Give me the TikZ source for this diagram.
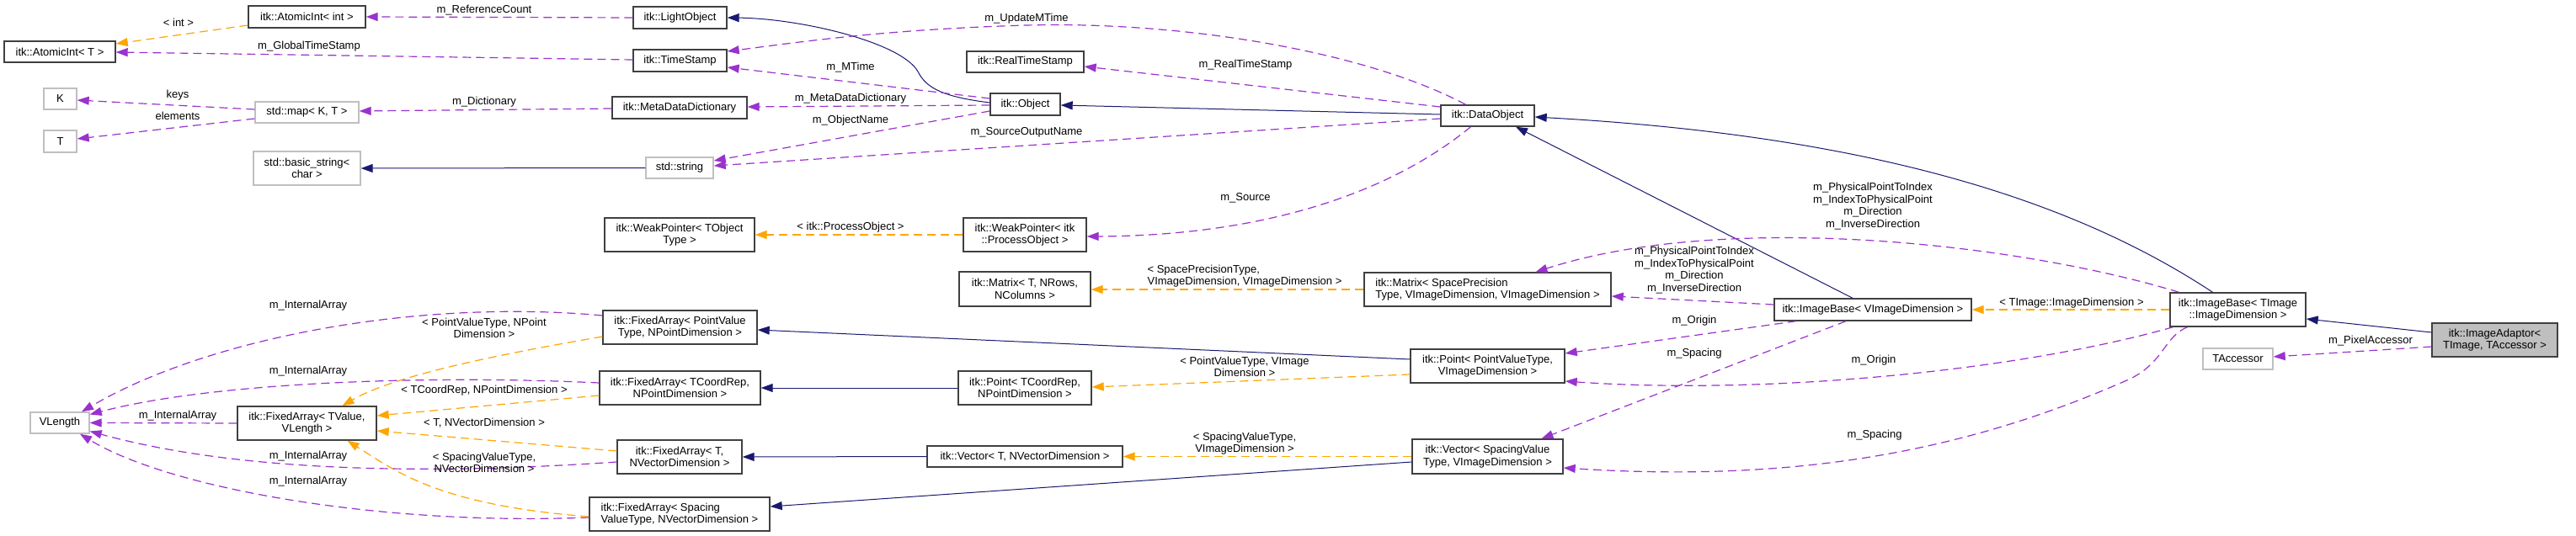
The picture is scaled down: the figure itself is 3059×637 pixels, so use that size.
\documentclass[tikz,border=0pt]{standalone}
\usepackage{fontspec}
\setmainfont{Liberation Sans}
\usetikzlibrary{arrows.meta,calc}
\definecolor{inh}{HTML}{191970}
\definecolor{use}{HTML}{9A32CD}
\definecolor{tpl}{HTML}{FFA500}
\definecolor{gbord}{HTML}{BFBFBF}
\definecolor{afill}{HTML}{BFBFBF}
\tikzset{
  cls/.style={draw=black!75, line width=0.7pt, fill=white, align=center},
  ext/.style={draw=gbord, line width=0.7pt, fill=white, align=center},
  sz/.style 2 args={minimum width=#1*0.5pt, minimum height=#2*0.5pt},
  lbl/.style={align=center},
  tip/.style={-{Triangle[length=7pt,width=5pt]}},
  inhe/.style={tip, draw=inh, line width=0.5pt},
  usee/.style={tip, draw=use, line width=0.6pt, dash pattern=on 5pt off 3pt},
  tple/.style={tip, draw=tpl, line width=0.6pt, dash pattern=on 5pt off 3pt},
}
\begin{document}
\begin{tikzpicture}[x=0.5pt,y=-0.5pt,
  every node/.style={font=\fontsize{6.5}{7.3}\selectfont, inner sep=0pt}]
\useasboundingbox[fill=white] (0,0) rectangle (3059,637);

% nodes
\node[cls,sz={139}{26}] (aint) at (364.5,20) {itk::AtomicInt< int >};
\node[cls,sz={132}{25}] (aT) at (71,61.5) {itk::AtomicInt< T >};
\node[ext,sz={39}{25}] (K) at (71.5,117.5) {K};
\node[ext,sz={39}{26}] (Tn) at (71.5,168) {T};
\node[ext,sz={123}{25}] (map) at (364.5,133.5) {std::map< K, T >};
\node[ext,sz={127}{40}] (bstr) at (364.5,200) {std::basic\_string<\\ char >};
\node[ext,sz={70}{25}] (vlen) at (71,502.5) {VLength};
\node[cls,sz={165}{40}] (fatv) at (364.5,503) {itk::FixedArray< TValue,\\ VLength >};
\node[cls,sz={111}{26}] (light) at (807.5,21) {itk::LightObject};
\node[cls,sz={111}{26}] (tstamp) at (807.5,72) {itk::TimeStamp};
\node[cls,sz={160}{26}] (mdd) at (807,128) {itk::MetaDataDictionary};
\node[ext,sz={80}{25}] (sstr) at (807,199.5) {std::string};
\node[cls,sz={178}{40}] (wpt) at (807,279) {itk::WeakPointer< TObject\\ Type >};
\node[cls,sz={183}{40}] (fapv) at (807.5,389) {itk::FixedArray< PointValue\\ Type, NPointDimension >};
\node[cls,sz={191}{40}] (fatc) at (807.5,461) {itk::FixedArray< TCoordRep,\\ NPointDimension >};
\node[cls,sz={148}{40}] (fat) at (807,543) {itk::FixedArray< T,\\ NVectorDimension >};
\node[cls,sz={214}{40},align=left] (fasp) at (807,611) {itk::FixedArray< Spacing\\ValueType, NVectorDimension >};
\node[cls,sz={139}{25}] (rts) at (1217.5,73.5) {itk::RealTimeStamp};
\node[cls,sz={83}{26}] (obj) at (1217.5,124) {itk::Object};
\node[cls,sz={146}{40}] (wpp) at (1217,279) {itk::WeakPointer< itk\\::ProcessObject >};
\node[cls,sz={156}{41}] (matt) at (1217,343.5) {itk::Matrix< T, NRows,\\ NColumns >};
\node[cls,sz={158}{40}] (ptc) at (1217,461) {itk::Point< TCoordRep,\\ NPointDimension >};
\node[cls,sz={232}{25}] (vect) at (1217,542.5) {itk::Vector< T, NVectorDimension >};
\node[cls,sz={111}{25}] (dobj) at (1766.5,137.5) {itk::DataObject};
\node[cls,sz={293}{40},align=left] (matsp) at (1766.5,344) {itk::Matrix< SpacePrecision\\Type, VImageDimension, VImageDimension >};
\node[cls,sz={183}{40}] (ppv) at (1766.5,435) {itk::Point< PointValueType,\\ VImageDimension >};
\node[cls,sz={179}{41}] (vsv) at (1766.5,542.5) {itk::Vector< SpacingValue\\ Type, VImageDimension >};
\node[cls,sz={234}{26}] (ibv) at (2224,368) {itk::ImageBase< VImageDimension >};
\node[cls,sz={161}{40}] (ibt) at (2657.5,368) {itk::ImageBase< TImage\\ ::ImageDimension >};
\node[ext,sz={83}{25}] (tacc) at (2657.5,426.5) {TAccessor};
\node[cls,sz={149}{40},fill=afill] (ia) at (2962.5,404) {itk::ImageAdaptor<\\ TImage, TAccessor >};

% edges
\draw[tple] ($(aint.west)+(0,10)$) -- ($(aT.east)+(0,-9.5)$);
\draw[usee] (light.west) -- (aint.east);
\draw[usee] ($(tstamp.west)+(0,-1)$) -- ($(aT.east)+(0,0.5)$);
\draw[inhe] ($(obj.west)+(0,-2)$) .. controls (1120,115) and (1100,105) .. (1090,85) .. controls (1070,50) and (950,22) .. (light.east);
\draw[usee] ($(obj.west)+(0,-7)$) -- ($(tstamp.east)+(0,8)$);
\draw[usee] ($(dobj.north)+(-26,0)$) .. controls (1620,60) and (1400,25) .. (1219,30) .. controls (1050,35) and (950,50) .. ($(tstamp.east)+(0,-11)$);
\draw[usee] ($(dobj.west)+(0,-10.5)$) -- ($(rts.east)+(0,5.5)$);
\draw[usee] ($(obj.west)+(0,1)$) -- ($(mdd.east)+(0,-1)$);
\draw[usee] ($(mdd.west)+(0,1)$) -- ($(map.east)+(0,-1.5)$);
\draw[usee] ($(map.west)+(0,-3.5)$) -- ($(K.east)+(0,1.5)$);
\draw[usee] ($(map.west)+(0,7.5)$) -- ($(Tn.east)+(0,-3)$);
\draw[inhe] (sstr.west) -- (bstr.east);
\draw[usee] ($(obj.west)+(0,8)$) -- ($(sstr.east)+(0,-8.5)$);
\draw[usee] ($(dobj.west)+(0,3.5)$) -- ($(sstr.east)+(0,-2.5)$);
\draw[inhe] ($(dobj.west)+(0,-1.5)$) -- ($(obj.east)+(0,1)$);
\draw[usee] ($(dobj.south)+(-20,0)$) .. controls (1650,230) and (1500,280) .. ($(wpp.east)+(0,2)$);
\draw[tple] (wpp.west) -- (wpt.east);
\draw[tple] (matsp.west) -- ($(matt.east)+(0,0.5)$);
\draw[inhe] ($(ibv.north)+(-24,0)$) -- ($(dobj.south)+(33.5,0)$);
\draw[inhe] ($(ibt.north)+(-30,0)$) .. controls (2450,230) and (2200,160) .. ($(dobj.east)+(0,1.5)$);
\draw[usee] ($(ibv.west)+(0,-6)$) -- ($(matsp.east)+(0,8)$);
\draw[usee] ($(ibt.north)+(-70,0)$) .. controls (2400,290) and (2050,250) .. ($(matsp.north)+(57,0)$);
\draw[usee] ($(ibv.south)+(-91,0)$) -- ($(ppv.east)+(0,-15)$);
\draw[usee] ($(ibv.south)+(-32,0)$) -- ($(vsv.north)+(64,0)$);
\draw[usee] ($(ibt.south)+(-77,0)$) .. controls (2400,440) and (2100,470) .. ($(ppv.east)+(0,18)$);
\draw[usee] ($(ibt.south)+(-60,0)$) .. controls (2570,400) and (2570,430) .. (2530,450) .. controls (2350,530) and (2150,575) .. ($(vsv.east)+(0,13.5)$);
\draw[tple] (ibt.west) -- (ibv.east);
\draw[inhe] ($(ia.west)+(0,-9)$) -- ($(ibt.east)+(0,11)$);
\draw[usee] ($(ia.west)+(0,8)$) -- ($(tacc.east)+(0,-2.5)$);
\draw[inhe] ($(ppv.west)+(0,-8)$) -- ($(fapv.east)+(0,3)$);
\draw[tple] ($(ppv.west)+(0,10)$) -- ($(ptc.east)+(0,-1)$);
\draw[inhe] (ptc.west) -- (fatc.east);
\draw[tple] (vsv.west) -- (vect.east);
\draw[inhe] (vect.west) -- (fat.east);
\draw[inhe] ($(vsv.west)+(0,6.5)$) -- ($(fasp.east)+(0,-9)$);
\draw[tple] ($(fapv.west)+(0,11)$) .. controls (600,420) and (470,445) .. ($(fatv.north)+(42,0)$);
\draw[tple] ($(fatc.west)+(0,9)$) -- ($(fatv.east)+(0,-9)$);
\draw[tple] ($(fat.west)+(0,-7)$) -- ($(fatv.east)+(0,9)$);
\draw[tple] ($(fasp.west)+(0,3)$) .. controls (520,600) and (470,560) .. ($(fatv.south)+(48,0)$);
\draw[usee] ($(fapv.west)+(0,-14)$) .. controls (500,355) and (250,400) .. ($(vlen.north)+(26,0)$);
\draw[usee] ($(fatc.west)+(0,-6)$) .. controls (500,445) and (250,455) .. ($(vlen.east)+(0,-10)$);
\draw[usee] (fatv.west) -- (vlen.east);
\draw[usee] ($(fat.west)+(0,6)$) .. controls (500,565) and (280,560) .. ($(vlen.east)+(0,10)$);
\draw[usee] ($(fasp.west)+(0,4)$) .. controls (450,625) and (200,580) .. ($(vlen.south)+(24,0)$);

% labels
\node[lbl] (l1) at (212,27) {< int >};
\node[lbl] (l2) at (575,12) {m\_ReferenceCount};
\node[lbl] (l3) at (367,55) {m\_GlobalTimeStamp};
\node[lbl] (l4) at (211,113) {keys};
\node[lbl] (l5) at (211,138) {elements};
\node[lbl] (l6) at (575,121) {m\_Dictionary};
\node[lbl] (l7) at (1010,80) {m\_MTime};
\node[lbl] (l8) at (1219,22) {m\_UpdateMTime};
\node[lbl] (l9) at (1479,77) {m\_RealTimeStamp};
\node[lbl] (l10) at (1010,117) {m\_MetaDataDictionary};
\node[lbl] (l11) at (1010,143) {m\_ObjectName};
\node[lbl] (l12) at (1219,157) {m\_SourceOutputName};
\node[lbl] (l13) at (1479,235) {m\_Source};
\node[lbl] (l14) at (1010,270) {< itk::ProcessObject >};
\node[lbl,align=left] (l15) at (1478,328) {< SpacePrecisionType,\\VImageDimension, VImageDimension >};
\node[lbl] (l16) at (2012,321) {m\_PhysicalPointToIndex\\m\_IndexToPhysicalPoint\\m\_Direction\\m\_InverseDirection};
\node[lbl] (l17) at (2224,245) {m\_PhysicalPointToIndex\\m\_IndexToPhysicalPoint\\m\_Direction\\m\_InverseDirection};
\node[lbl] (l18) at (2012,381) {m\_Origin};
\node[lbl] (l19) at (2012,420) {m\_Spacing};
\node[lbl] (l20) at (2225,428) {m\_Origin};
\node[lbl] (l21) at (2226,517) {m\_Spacing};
\node[lbl] (l22) at (2460,360) {< TImage::ImageDimension >};
\node[lbl] (l23) at (2815,405) {m\_PixelAccessor};
\node[lbl] (l24) at (1478,436) {< PointValueType, VImage\\Dimension >};
\node[lbl] (l25) at (1478,527) {< SpacingValueType,\\VImageDimension >};
\node[lbl] (l26) at (575,390) {< PointValueType, NPoint\\Dimension >};
\node[lbl] (l27) at (575,464) {< TCoordRep, NPointDimension >};
\node[lbl] (l28) at (575,503) {< T, NVectorDimension >};
\node[lbl] (l29) at (575,550) {< SpacingValueType,\\NVectorDimension >};
\node[lbl] (l30) at (366,363) {m\_InternalArray};
\node[lbl] (l31) at (366,441) {m\_InternalArray};
\node[lbl] (l32) at (211,494) {m\_InternalArray};
\node[lbl] (l33) at (366,542) {m\_InternalArray};
\node[lbl] (l34) at (366,572) {m\_InternalArray};
\end{tikzpicture}
\end{document}
